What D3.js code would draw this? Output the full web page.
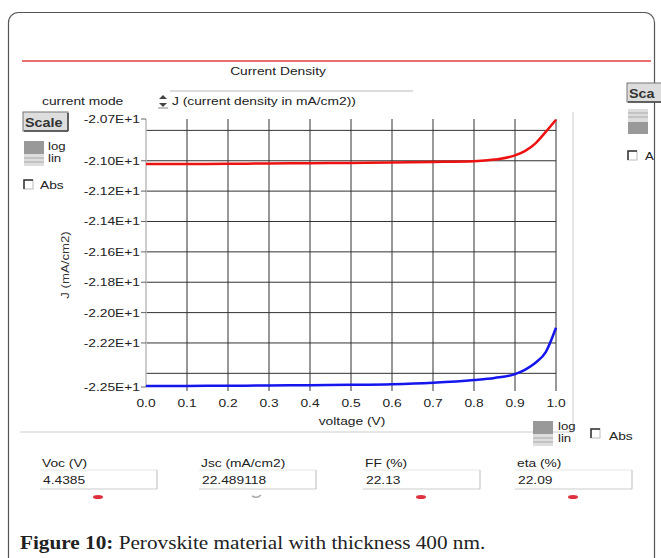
<!DOCTYPE html>
<html><head><meta charset="utf-8">
<script src="https://cdn.jsdelivr.net/npm/d3@7"></script>
<style>body{margin:0;background:#fff;}svg{display:block;}</style>
</head><body>
<script>
// ---- data ----
const voltage = [0, 0.1, 0.2, 0.3, 0.4, 0.5, 0.6, 0.7, 0.8, 0.85, 0.9, 0.925, 0.95, 0.975, 1.0];
const jUpper  = [-21.022, -21.021, -21.02, -21.018, -21.016, -21.014, -21.011, -21.008, -21.003, -20.992, -20.965, -20.935, -20.885, -20.81, -20.73];
const jLower  = [-22.484, -22.483, -22.482, -22.48, -22.478, -22.476, -22.472, -22.462, -22.444, -22.43, -22.405, -22.375, -22.33, -22.26, -22.10];
const xTicks  = [0, 0.1, 0.2, 0.3, 0.4, 0.5, 0.6, 0.7, 0.8, 0.9, 1.0];
const yLabelTicks = [-20.7, -21.0, -21.2, -21.4, -21.6, -21.8, -22.0, -22.2, -22.5];
const yGridTicks  = [-20.8, -21.0, -21.2, -21.4, -21.6, -21.8, -22.0, -22.2, -22.4];
const resultNames  = ["Voc (V)", "Jsc (mA/cm2)", "FF  (%)", "eta (%)"];
const resultValues = ["4.4385", "22.489118", "22.13", "22.09"];

const W = 661, H = 558;
const svg = d3.select("body").append("svg").attr("width", W).attr("height", H);
const SX = 1.2;
const FS = 11.5;
const UI = "'Liberation Sans', Arial, sans-serif";
function txt(g, x, y, s, o = {}) {
  return g.append("text").attr("transform", `translate(${x},${y}) scale(${o.sx || SX},1)`)
    .attr("text-anchor", o.anchor || "start").attr("font-family", o.font || UI)
    .attr("font-size", o.size || FS).attr("font-weight", o.weight || "normal")
    .attr("fill", o.fill || "#222").text(s);
}

// outer frame
svg.append("rect").attr("x", 8.5).attr("y", 12.5).attr("width", 646).attr("height", 556)
  .attr("rx", 10).attr("fill", "none").attr("stroke", "#555").attr("stroke-width", 1.2);

// red header line
svg.append("line").attr("x1", 22).attr("x2", 651).attr("y1", 61).attr("y2", 61)
  .attr("stroke", "#e04040").attr("stroke-width", 1.5);
txt(svg, 278, 75, "Current Density", {anchor: "middle", size: 11.5});

// mode controls
txt(svg, 42, 105, "current mode");
svg.append("line").attr("x1", 170).attr("x2", 413).attr("y1", 91).attr("y2", 91).attr("stroke", "#bbb");
const sp = svg.append("g").attr("transform", "translate(163,101)");
sp.append("path").attr("d", "M-4,-2 L0,-6 L4,-2 Z M-4,2 L0,6 L4,2 Z").attr("fill", "#444");
sp.append("line").attr("x1", -5).attr("x2", 5).attr("y1", 7).attr("y2", 7).attr("stroke", "#888");
txt(svg, 172, 105, "J (current density in mA/cm2))");

function button(x, y, w, label) {
  svg.append("rect").attr("x", x).attr("y", y).attr("width", w).attr("height", 19)
    .attr("fill", "#ddd").attr("stroke", "#777");
  svg.append("line").attr("x1", x + 1).attr("x2", x + w).attr("y1", y + 19).attr("y2", y + 19).attr("stroke", "#444").attr("stroke-width", 1.5);
  svg.append("line").attr("x1", x + w).attr("x2", x + w).attr("y1", y + 1).attr("y2", y + 19).attr("stroke", "#444").attr("stroke-width", 1.5);
  txt(svg, x + 2, y + 15, label, {size: 12.5, weight: "bold", fill: "#333", sx: 1.15});
}
function toggle(x, y, darkTop) {
  const g = svg.append("g");
  g.append("rect").attr("x", x).attr("y", y).attr("width", 20).attr("height", 13).attr("fill", darkTop ? "#999" : "#ddd");
  g.append("rect").attr("x", x).attr("y", y + 13).attr("width", 20).attr("height", 12).attr("fill", darkTop ? "#ddd" : "#999");
  const ly = darkTop ? y + 17 : y + 4;
  g.append("line").attr("x1", x).attr("x2", x + 20).attr("y1", ly).attr("y2", ly).attr("stroke", "#aaa");
  g.append("line").attr("x1", x).attr("x2", x + 20).attr("y1", ly + 4).attr("y2", ly + 4).attr("stroke", "#aaa");
}
function checkbox(x, y) {
  svg.append("rect").attr("x", x).attr("y", y).attr("width", 9).attr("height", 9).attr("fill", "#fff").attr("stroke", "#bbb");
  svg.append("path").attr("d", `M${x},${y + 9} L${x},${y} L${x + 9},${y}`).attr("fill", "none").attr("stroke", "#333").attr("stroke-width", 1.5);
}
button(23, 112, 45, "Scale");
toggle(24, 141, true);
txt(svg, 48, 150, "log", {size: 11});
txt(svg, 48, 162, "lin", {size: 11});
checkbox(24, 180);
txt(svg, 40, 189, "Abs");

// right-side widgets (cut by the picture edge in the original)
button(627, 83, 40, "Sca");
toggle(628, 109, false);
checkbox(628, 151);
txt(svg, 645, 160, "A", {size: 11});

// panel borders
svg.append("line").attr("x1", 573).attr("x2", 573).attr("y1", 112).attr("y2", 432).attr("stroke", "#ccc");
svg.append("line").attr("x1", 20).attr("x2", 573).attr("y1", 432).attr("y2", 432).attr("stroke", "#ccc");

// ---- plot ----
const x = d3.scaleLinear().domain([0, 1]).range([146, 556]);
const y = d3.scaleLinear().domain([-22.49, -20.725]).range([387, 119]).clamp(true);

const grid = svg.append("g");
grid.selectAll("line.v").data(xTicks.slice(1)).join("line")
  .attr("x1", d => x(d)).attr("x2", d => x(d)).attr("y1", y.range()[1]).attr("y2", y.range()[0] + 4)
  .attr("stroke", "#333").attr("stroke-width", 1);
grid.selectAll("line.h").data(yGridTicks).join("line")
  .attr("x1", x(0)).attr("x2", x(1)).attr("y1", d => y(d)).attr("y2", d => y(d))
  .attr("stroke", "#333").attr("stroke-width", 1);
// left axis
svg.append("line").attr("x1", x(0)).attr("x2", x(0)).attr("y1", y.range()[1]).attr("y2", y.range()[0])
  .attr("stroke", "#bbb").attr("stroke-width", 1.5);

// y tick labels
yLabelTicks.forEach(v => {
  const yy = y(v);
  svg.append("line").attr("x1", x(0) - 5).attr("x2", x(0)).attr("y1", yy).attr("y2", yy).attr("stroke", "#666");
  txt(svg, x(0) - 6, yy + 4, (v / 10).toFixed(2) + "E+1", {anchor: "end"});
});
// x tick labels
xTicks.forEach(v => {
  txt(svg, x(v), 407, v.toFixed(1), {anchor: "middle"});
});
txt(svg, 352, 425, "voltage (V)", {anchor: "middle"});
svg.append("text").attr("transform", "translate(69,265) rotate(-90) scale(1.2,1)")
  .attr("text-anchor", "middle").attr("font-family", UI).attr("font-size", 11).attr("fill", "#333").text("J (mA/cm2)");

// curves
const line = d3.line().x((d, i) => x(voltage[i])).y(d => y(d)).curve(d3.curveMonotoneX);
svg.append("path").datum(jUpper).attr("d", line).attr("fill", "none").attr("stroke", "#ee1111").attr("stroke-width", 2.5);
svg.append("path").datum(jLower).attr("d", line).attr("fill", "none").attr("stroke", "#1515ee").attr("stroke-width", 2.5);

// bottom-right toggles
toggle(533, 421, true);
txt(svg, 558, 430, "log", {size: 11});
txt(svg, 558, 442, "lin", {size: 11});
checkbox(591, 429);
txt(svg, 609, 440, "Abs");

// result boxes
const boxX = [40, 199, 363, 515];
resultNames.forEach((n, i) => {
  const bx = boxX[i];
  txt(svg, bx + 2, 467, n);
  svg.append("rect").attr("x", bx).attr("y", 470).attr("width", 117).attr("height", 19).attr("fill", "#fff");
  svg.append("line").attr("x1", bx).attr("x2", bx + 117).attr("y1", 470).attr("y2", 470).attr("stroke", "#e6e6e6");
  svg.append("line").attr("x1", bx).attr("x2", bx + 117).attr("y1", 489).attr("y2", 489).attr("stroke", "#ccc");
  svg.append("line").attr("x1", bx + 117).attr("x2", bx + 117).attr("y1", 470).attr("y2", 489).attr("stroke", "#bbb");
  txt(svg, bx + 3, 484, resultValues[i]);
  const cx = bx + 58;
  if (i === 1) {
    svg.append("path").attr("d", `M${cx - 5},${496} Q${cx},${499} ${cx + 4},${495}`).attr("fill", "none").attr("stroke", "#aaa").attr("stroke-width", 1.5);
  } else {
    svg.append("ellipse").attr("cx", cx).attr("cy", 497).attr("rx", 5).attr("ry", 2).attr("fill", "#e03040");
  }
});

// caption
const cap = svg.append("text").attr("transform", "translate(20,549) scale(1.18,1)")
  .attr("font-family", "'Liberation Serif', 'Times New Roman', serif")
  .attr("font-size", 18).attr("fill", "#222");
cap.append("tspan").attr("font-weight", "bold").text("Figure 10:");
cap.append("tspan").text(" Perovskite material with thickness 400 nm.");
</script>
</body></html>
